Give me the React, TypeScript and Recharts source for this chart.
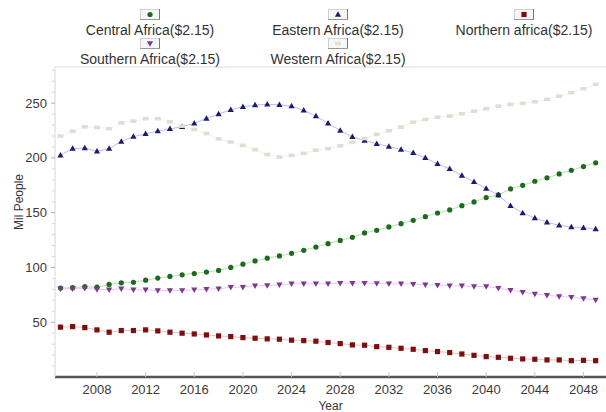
import React from "react";
import { LineChart, Line, XAxis, YAxis, ReferenceLine, Label } from "recharts";

const years = [
  2005, 2006, 2007, 2008, 2009, 2010, 2011, 2012, 2013, 2014, 2015, 2016, 2017, 2018, 2019,
  2020, 2021, 2022, 2023, 2024, 2025, 2026, 2027, 2028, 2029, 2030, 2031, 2032, 2033, 2034,
  2035, 2036, 2037, 2038, 2039, 2040, 2041, 2042, 2043, 2044, 2045, 2046, 2047, 2048, 2049,
];

const centralAfrica = [
  81.2, 81.5, 82.5, 82, 84.5, 86, 86.5, 88.4, 90.3, 91.8, 93.3, 94.5, 95.8, 97.3, 100,
  103, 106, 108.5, 110.5, 112.8, 115.6, 118.6, 121.7, 124.7, 127.5, 131.5, 133.9, 137, 140, 143,
  146.4, 149.7, 152.5, 156.4, 159.8, 163.8, 166.2, 171.7, 175, 178.7, 181.8, 185.4, 188.7, 192.1, 195.5,
];

const easternAfrica = [
  202.5, 208.5, 209, 206, 208.5, 215, 219.5, 222, 224.5, 226.5, 228.5, 231.5, 236, 240, 244,
  246.7, 248.2, 248.9, 248.5, 247.3, 243.4, 238.2, 231.5, 225, 219.3, 215.9, 212.9, 210.4, 207.7, 204.6,
  200, 194.6, 190, 183.9, 178.1, 172, 166.2, 156.4, 149.7, 145.2, 141.2, 138.4, 136.9, 136.3, 135,
];

const northernAfrica = [
  45.5, 46, 45.1, 43, 40.9, 42.4, 42.4, 43, 42.1, 40.9, 40, 39.3, 38.4, 37.5, 36.9,
  36, 35.4, 34.8, 34.5, 33.6, 33.2, 32.7, 31.5, 30.5, 29.3, 29, 27.7, 27.1, 26.2, 25.3,
  24.1, 23.2, 22.3, 21, 19.8, 18.6, 18, 17.1, 16.5, 16.2, 15.6, 15.6, 14.9, 15.2, 14.9,
];

const southernAfrica = [
  80.5, 80.5, 81, 80, 79.6, 80.5, 79.6, 79.6, 79, 79, 79, 79.6, 80.2, 80.5, 82,
  82, 83.3, 83.6, 84.2, 85.1, 85.1, 85.1, 85.1, 85.7, 85.7, 85.7, 85.4, 85.1, 85.1, 84.8,
  84.2, 83.9, 83.3, 83.3, 82.6, 82.6, 81.1, 79.3, 77.5, 75.9, 74.7, 73.5, 72.9, 71.6, 70.4,
];

const westernAfrica = [
  220, 224.4, 228.4, 227.8, 226.6, 232, 233.6, 235.8, 235.8, 233, 229, 226, 222.3, 217.4, 214.5,
  211.5, 207.5, 203.1, 200.8, 202.3, 204.2, 207, 208.5, 211, 214.2, 217.7, 221.4, 224.8, 228.1, 232.7,
  235.1, 237.2, 238.2, 240.3, 242.7, 244.9, 247.3, 248.9, 249.8, 251.3, 253.4, 256.4, 259.6, 263.2, 267.2,
];

const xTicks = [2008, 2012, 2016, 2020, 2024, 2028, 2032, 2036, 2040, 2044, 2048];
const yLabelTicks = [50, 100, 150, 200, 250];
const yTicks = [
  10, 20, 30, 40, 50, 60, 70, 80, 90, 100, 110, 120, 130, 140, 150, 160, 170, 180, 190, 200,
  210, 220, 230, 240, 250, 260, 270, 280,
];

type Shape = "circle" | "triangle" | "square" | "triangleDown" | "dash";

const series: { key: string; name: string; marker: string; line: string; shape: Shape }[] = [
  { key: "central", name: "Central Africa($2.15)", marker: "#1f6a1f", line: "#8fd88f", shape: "circle" },
  { key: "eastern", name: "Eastern Africa($2.15)", marker: "#1c1c6e", line: "#a0a0ec", shape: "triangle" },
  { key: "northern", name: "Northern africa($2.15)", marker: "#7a1010", line: "#e8a0a0", shape: "square" },
  { key: "southern", name: "Southern Africa($2.15)", marker: "#7b3a8c", line: "#e2b0ec", shape: "triangleDown" },
  { key: "western", name: "Western Africa($2.15)", marker: "#e0ded2", line: "#f0efe8", shape: "dash" },
];

const data = years.map((year, i) => ({
  year,
  central: centralAfrica[i],
  eastern: easternAfrica[i],
  northern: northernAfrica[i],
  southern: southernAfrica[i],
  western: westernAfrica[i],
}));

const FONT = "'Liberation Sans', Arial, sans-serif";

function Marker({ cx, cy, shape, color }: { cx?: number; cy?: number; shape: Shape; color: string }) {
  if (cx == null || cy == null) return null;
  switch (shape) {
    case "circle":
      return <circle cx={cx} cy={cy} r={2.6} fill={color} />;
    case "square":
      return <rect x={cx - 2.6} y={cy - 2.6} width={5.2} height={5.2} fill={color} />;
    case "triangle":
      return <path d={`M${cx},${cy - 3.3}L${cx + 3.1},${cy + 2.2}L${cx - 3.1},${cy + 2.2}Z`} fill={color} />;
    case "triangleDown":
      return <path d={`M${cx},${cy + 3.3}L${cx + 3.1},${cy - 2.2}L${cx - 3.1},${cy - 2.2}Z`} fill={color} />;
    default:
      return <rect x={cx - 3} y={cy - 1.8} width={6} height={3.6} fill={color} />;
  }
}

function XTick(props: any) {
  const { x, y, payload } = props;
  return (
    <g>
      <line x1={x} x2={x} y1={y - 7} y2={y - 12} stroke="#c8c8c8" />
      <text x={x} y={y} dy="0.8em" textAnchor="middle" fontSize={13} fill="#3a3a3a" fontFamily={FONT}>
        {payload.value}
      </text>
    </g>
  );
}

function YTick(props: any) {
  const { x, y, payload } = props;
  const major = yLabelTicks.includes(payload.value);
  return (
    <g>
      <line x1={x + 8} x2={x + (major ? 4 : 5)} y1={y} y2={y} stroke={major ? "#b0b0b0" : "#d6d6d6"} />
      {major && (
        <text x={x} y={y} dy="0.35em" textAnchor="end" fontSize={13} fill="#3a3a3a" fontFamily={FONT}>
          {payload.value}
        </text>
      )}
    </g>
  );
}

function YTitle(props: any) {
  const vb = props.viewBox || { x: 0, y: 67, width: 55, height: 310 };
  const x = vb.x + 20;
  const y = vb.y + vb.height / 2 - 20;
  return (
    <text
      x={x}
      y={y}
      transform={`rotate(-90, ${x}, ${y})`}
      textAnchor="middle"
      dominantBaseline="middle"
      fontSize={12}
      fill="#333"
      fontFamily={FONT}
    >
      Mil People
    </text>
  );
}

function LegendIcon({ shape, color }: { shape: Shape; color: string }) {
  return (
    <svg width={20} height={11} style={{ display: "block" }}>
      <rect x={0.5} y={0.5} width={19} height={10} fill="#f7f7f7" stroke="#d0d0d0" />
      <line x1={19.5} x2={19.5} y1={0} y2={11} stroke="#777" />
      <line x1={0} x2={20} y1={10.5} y2={10.5} stroke="#999" />
      <Marker cx={10} cy={5.5} shape={shape} color={color} />
    </svg>
  );
}

function ChartLegend() {
  return (
    <div
      style={{
        position: "absolute",
        left: 55,
        top: 9,
        width: 564,
        display: "grid",
        gridTemplateColumns: "190px 186px 186px",
        gridAutoRows: "29px",
        fontFamily: FONT,
        fontSize: 14,
        color: "#333",
      }}
    >
      {series.map((s) => (
        <div key={s.key} style={{ display: "flex", flexDirection: "column", alignItems: "center" }}>
          <LegendIcon shape={s.shape} color={s.marker} />
          <div style={{ marginTop: 3, lineHeight: "15px", whiteSpace: "nowrap" }}>{s.name}</div>
        </div>
      ))}
    </div>
  );
}

export default function App() {
  return (
    <div style={{ position: "absolute", left: 0, top: 0, width: 606, height: 412, background: "#fff" }}>
      <LineChart width={606} height={412} data={data} margin={{ top: 67, right: 0, left: 0, bottom: 0 }}>
        <ReferenceLine y={283} stroke="#dcdcdc" />
        <XAxis
          dataKey="year"
          type="number"
          domain={[2004.55, 2049.85]}
          ticks={xTicks}
          height={35}
          tickSize={0}
          tickMargin={7}
          tickLine={false}
          tick={<XTick />}
          axisLine={{ stroke: "#555", strokeWidth: 2.5 }}
          allowDataOverflow
        >
          <Label value="Year" position="insideBottom" offset={2} fontSize={12} fill="#333" fontFamily={FONT} />
        </XAxis>
        <YAxis
          type="number"
          domain={[0, 283]}
          ticks={yTicks}
          width={55}
          tickSize={0}
          tickMargin={8}
          tickLine={false}
          tick={<YTick />}
          axisLine={{ stroke: "#d8d8d8" }}
          interval={0}
          allowDataOverflow
        >
          <Label content={<YTitle />} />
        </YAxis>
        {series.map((s) => (
          <Line
            key={s.key}
            type="linear"
            dataKey={s.key}
            name={s.name}
            stroke={s.line}
            strokeWidth={1}
            strokeOpacity={0.7}
            isAnimationActive={false}
            activeDot={false}
            dot={(p: any) => (
              <Marker key={`${s.key}-${p.index}`} cx={p.cx} cy={p.cy} shape={s.shape} color={s.marker} />
            )}
          />
        ))}
      </LineChart>
      <ChartLegend />
    </div>
  );
}
